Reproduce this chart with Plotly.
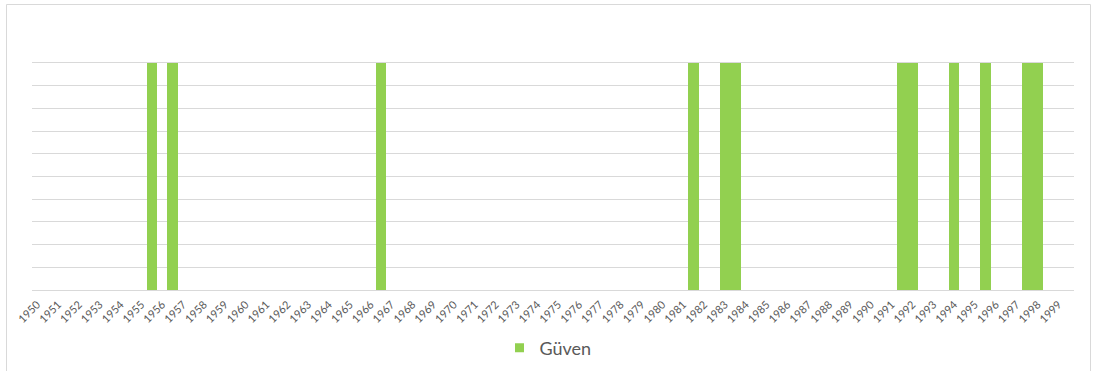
import plotly.graph_objects as go

# Tick labels (years)
years = list(range(1950, 2000))
# Bar positions (half-year slots) and values for series "Güven"
guven_x = [1955.5, 1956.5, 1966.5, 1981.5, 1983.0, 1983.5, 1991.5, 1992.0, 1994.0, 1995.5, 1997.5, 1998.0]
guven_y = [1, 1, 1, 1, 1, 1, 1, 1, 1, 1, 1, 1]

font_family = "Lato, 'Open Sans', sans-serif"
grey = "#595959"
green = "#92D050"

fig = go.Figure()
fig.add_trace(go.Bar(
    x=guven_x, y=guven_y, width=0.5, name="Güven",
    marker=dict(color=green, line=dict(width=0)),
    showlegend=False,
))
# legend entry with a small square symbol
fig.add_trace(go.Scatter(
    x=[None], y=[None], mode="markers", name="Güven",
    marker=dict(symbol="square", size=9, color=green),
    showlegend=True,
))

W, H = 1094, 371
L, R, T, B = 32, 20, 63, 81
pw = W - L - R
ph = H - T - B

def px(x):
    return (x - L) / pw

def py(y):
    return (H - B - y) / ph

fig.update_layout(
    width=W, height=H,
    margin=dict(l=L, r=R, t=T, b=B, autoexpand=False),
    paper_bgcolor="white", plot_bgcolor="white",
    font=dict(family=font_family, color=grey),
    bargap=0,
    showlegend=True,
    legend=dict(orientation="h", x=px(548), xanchor="center", y=py(348), yanchor="middle",
                font=dict(size=18, color=grey), itemwidth=30),
    xaxis=dict(range=[1949.75, 1999.75], tickmode="array", tickvals=years,
               ticktext=[str(y) for y in years], tickangle=-45, automargin=False,
               ticklabelstandoff=3,
               tickfont=dict(size=11, color=grey), showgrid=False, zeroline=False,
               showline=True, mirror=True, linecolor="#D9D9D9", linewidth=1, ticks=""),
    yaxis=dict(range=[0, 1], dtick=0.1, showticklabels=False, showgrid=True, automargin=False,
               gridcolor="#D9D9D9", gridwidth=1, zeroline=False, showline=False, ticks=""),
    shapes=[dict(type="rect", xref="paper", yref="paper",
                 x0=px(6.5), x1=px(1090.5), y0=py(371.5), y1=py(4.5),
                 line=dict(color="#D9D9D9", width=1), fillcolor="rgba(0,0,0,0)", layer="below")],
)

fig.write_html("out.html")
